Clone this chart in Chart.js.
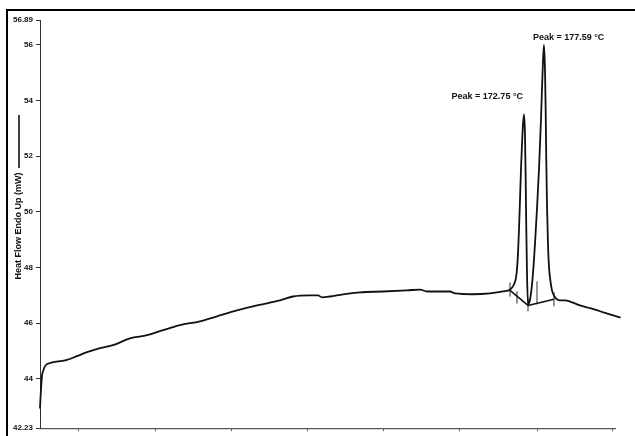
<!DOCTYPE html>
<html>
<head>
<meta charset="utf-8">
<title>DSC heating scan</title>
<script src="https://cdn.jsdelivr.net/npm/chart.js@4.4.1/dist/chart.umd.min.js"></script>
<style>
  html, body { margin: 0; padding: 0; background: #fff; }
  #wrap { position: relative; width: 635px; height: 436px; }
</style>
</head>
<body>
<div id="wrap"><canvas id="dsc" width="635" height="436"></canvas></div>
<script>
// DSC heating scan: sample temperature (°C) against heat flow, endotherm up (mW)
const temperature = [
  55.50, 55.62, 55.74, 55.98, 56.35, 56.71, 57.92, 59.13, 60.35, 62.04,
  64.46, 66.89, 70.04, 73.19, 77.30, 81.42, 85.30, 89.42, 94.26, 98.38,
  103.22, 108.07, 113.64, 116.79, 120.91, 122.85, 123.82, 125.76, 128.91, 133.02,
  138.60, 144.41, 147.56, 149.25, 152.40, 154.83, 156.04, 160.40, 164.52, 167.67,
  169.37, 170.33, 170.82, 171.06, 171.30, 171.55, 171.79, 172.03, 172.27, 172.51,
  172.75, 172.99, 173.16, 173.31, 173.48, 173.72, 173.96, 174.45, 174.93, 175.42,
  175.90, 176.39, 176.87, 177.11, 177.35, 177.59, 177.84, 178.00, 178.15, 178.32,
  178.56, 178.80, 179.17, 179.53, 180.26, 181.47, 182.68, 184.38, 186.32, 188.74,
  191.16, 193.58, 196.00, 197.70
];
const heatFlow = [
  42.96, 43.32, 43.61, 44.11, 44.32, 44.46, 44.57, 44.61, 44.64, 44.68,
  44.82, 44.96, 45.11, 45.21, 45.46, 45.57, 45.75, 45.93, 46.07, 46.25,
  46.46, 46.64, 46.82, 46.96, 47.00, 47.00, 46.93, 46.96, 47.04, 47.11,
  47.14, 47.18, 47.21, 47.14, 47.14, 47.14, 47.07, 47.04, 47.07, 47.14,
  47.21, 47.39, 47.64, 47.96, 48.50, 49.39, 50.46, 51.54, 52.43, 53.14,
  53.50, 52.79, 51.18, 49.39, 47.79, 46.68, 46.71, 47.07, 47.79, 48.86,
  50.11, 51.54, 53.32, 54.39, 55.39, 56.00, 55.11, 53.68, 51.89, 50.29,
  48.86, 48.04, 47.50, 47.18, 46.93, 46.82, 46.82, 46.75, 46.64, 46.54,
  46.43, 46.32, 46.21, 46.11
];

// Integration baseline drawn under the two melting peaks
const baselineT  = [169.37, 173.72, 180.02];
const baselineHF = [47.18, 46.64, 46.86];

// Short limit markers at the peak onsets / ends
const markerT      = [169.37, 171.06, 173.72, 175.90, 180.02];
const markerTop    = [47.46, 47.14, 46.89, 47.50, 47.11];
const markerBottom = [46.96, 46.71, 46.43, 46.68, 46.61];

// Peak annotations
const peakT      = [172.75, 177.59];
const peakLabels = ['Peak = 172.75 °C', 'Peak = 177.59 °C'];

// Axis ticks
const yTicks      = [42.23, 44, 46, 48, 50, 52, 54, 56, 56.89];
const yTickLabels = ['42.23', '44', '46', '48', '50', '52', '54', '56', '56.89'];
const xTicks      = [64.8, 83.4, 101.8, 120.2, 138.8, 157.2, 176.1, 194.3];
const xMin = 55.5, xMax = 194.8;

const yTitle = 'Heat Flow Endo Up (mW)';
const FONT = "'Liberation Sans', Arial, Helvetica, sans-serif";

const curvePts = temperature.map((t, i) => ({ x: t, y: heatFlow[i] }));
const basePts = baselineT.map((t, i) => ({ x: t, y: baselineHF[i] }));
const markerPts = [];
markerT.forEach((t, i) => {
  markerPts.push({ x: t, y: markerTop[i] }, { x: t, y: markerBottom[i] }, { x: t, y: null });
});

const decor = {
  id: 'decor',
  beforeDraw(chart) {
    const ctx = chart.ctx;
    ctx.save();
    ctx.fillStyle = '#fff';
    ctx.fillRect(0, 0, chart.width, chart.height);
    ctx.restore();
  },
  afterDraw(chart) {
    const ctx = chart.ctx;
    const xs = chart.scales.x, ys = chart.scales.y;
    ctx.save();
    // page frame
    ctx.strokeStyle = '#000';
    ctx.lineWidth = 2;
    ctx.beginPath();
    ctx.moveTo(7, chart.height + 5);
    ctx.lineTo(7, 10);
    ctx.lineTo(chart.width + 5, 10);
    ctx.stroke();

    // y-axis title with its line swatch
    ctx.fillStyle = '#111';
    ctx.font = 'bold 9px ' + FONT;
    ctx.translate(18.5, 226);
    ctx.rotate(-Math.PI / 2);
    ctx.textAlign = 'center';
    ctx.textBaseline = 'middle';
    ctx.fillText(yTitle, 0, 0);
    ctx.setTransform(1, 0, 0, 1, 0, 0);
    ctx.strokeStyle = '#111';
    ctx.lineWidth = 1.6;
    ctx.beginPath();
    ctx.moveTo(19, 115);
    ctx.lineTo(19, 168);
    ctx.stroke();

    // peak labels placed from the peak points
    ctx.font = 'bold 9px ' + FONT;
    ctx.textBaseline = 'middle';
    peakT.forEach((t, k) => {
      const i = temperature.indexOf(t);
      const px = xs.getPixelForValue(t);
      const py = ys.getPixelForValue(heatFlow[i]);
      if (k === 0) {
        ctx.textAlign = 'right';
        ctx.fillText(peakLabels[k], px - 1, py - 18);
      } else {
        ctx.textAlign = 'left';
        ctx.fillText(peakLabels[k], px - 11, py - 7);
      }
    });
    ctx.restore();
  }
};

new Chart(document.getElementById('dsc'), {
  type: 'line',
  data: {
    datasets: [
      {
        data: curvePts,
        borderColor: '#111',
        borderWidth: 1.8,
        borderJoinStyle: 'round',
        borderCapStyle: 'round',
        pointRadius: 0,
        cubicInterpolationMode: 'monotone',
        clip: false
      },
      {
        data: basePts,
        borderColor: '#111',
        borderWidth: 1.6,
        borderJoinStyle: 'round',
        pointRadius: 0,
        tension: 0
      },
      {
        data: markerPts,
        borderColor: '#888',
        borderWidth: 1,
        pointRadius: 0,
        spanGaps: false,
        tension: 0
      }
    ]
  },
  options: {
    responsive: false,
    animation: false,
    devicePixelRatio: 1,
    layout: { padding: { left: 0, top: 20, right: 20, bottom: 0 } },
    plugins: { legend: { display: false }, tooltip: { enabled: false } },
    scales: {
      x: {
        type: 'linear',
        min: xMin,
        max: xMax,
        afterBuildTicks(scale) { scale.ticks = xTicks.map(v => ({ value: v })); },
        afterFit(scale) { scale.height = 6.5; },
        ticks: { display: false },
        grid: { drawOnChartArea: false, drawTicks: true, tickLength: 3, color: '#555', tickWidth: 1 },
        border: { display: true, color: '#555', width: 1.2 }
      },
      y: {
        type: 'linear',
        min: 42.23,
        max: 56.89,
        afterBuildTicks(scale) { scale.ticks = yTicks.map(v => ({ value: v })); },
        afterFit(scale) { scale.width = 40; },
        ticks: {
          color: '#111',
          padding: 3,
          font: { family: FONT, size: 8, weight: 'bold' },
          callback: (v, i) => yTickLabels[i]
        },
        grid: { drawOnChartArea: false, drawTicks: true, tickLength: 4, color: '#333', tickWidth: 1 },
        border: { display: true, color: '#333', width: 1 }
      }
    }
  },
  plugins: [decor]
});
</script>
</body>
</html>
